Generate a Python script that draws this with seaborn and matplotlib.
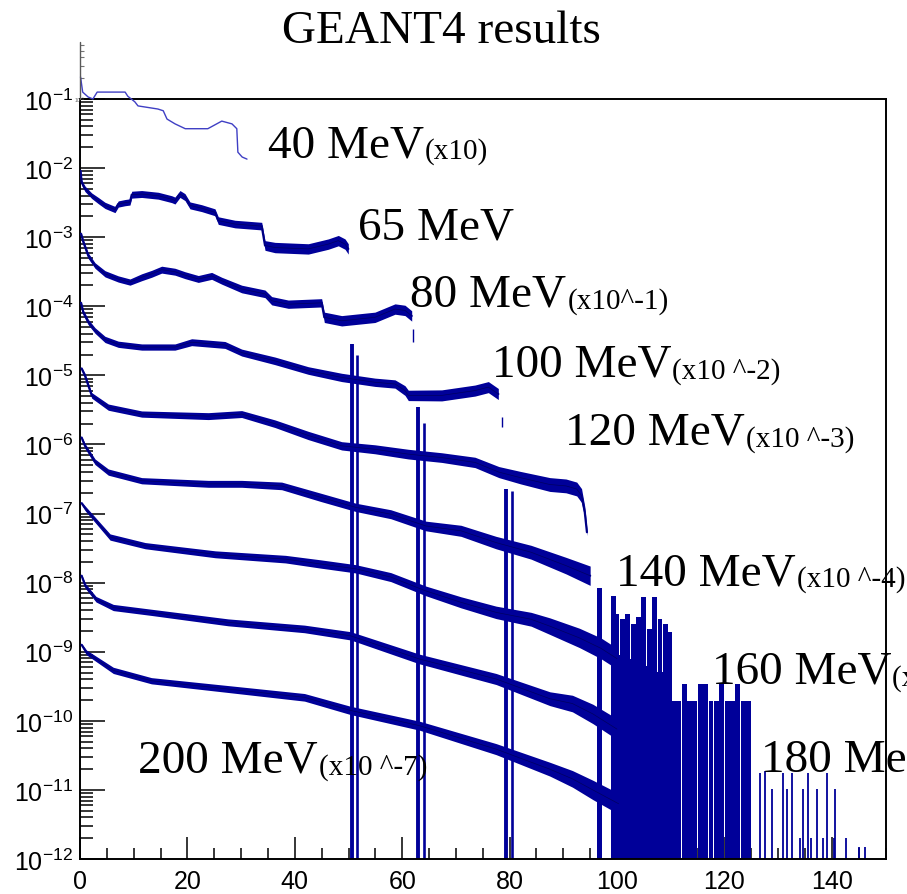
import numpy as np
import pandas as pd
import matplotlib
matplotlib.use("Agg")
import matplotlib.pyplot as plt
from matplotlib.ticker import MultipleLocator, LogLocator, NullFormatter, FuncFormatter
import seaborn as sns

# ---------------------------------------------------------------------------
# GEANT4 spectra: x = energy (MeV), values stored as log10 of the scaled yield
# sp_* = half width of the statistical band (decades) at each node
# ---------------------------------------------------------------------------
x_40 = [0.1, 0.5, 1.5, 2.4, 3.2, 5.2, 8.4, 8.9, 10.2, 10.8, 14.5, 15.5, 16.2, 17.7,
        19.6, 23.8, 26.4, 28.3, 29.2, 29.4, 30.2, 31.1]
lg_40 = [-0.68, -0.90, -0.97, -1.00, -0.90, -0.90, -0.90, -0.96, -1.04, -1.10, -1.145,
         -1.17, -1.29, -1.36, -1.43, -1.43, -1.32, -1.36, -1.43, -1.77, -1.84, -1.87]

x_65 = [0.1, 0.32, 0.93, 2.18, 3.41, 4.66, 5.90, 6.52, 7.13, 8.38, 9.31, 9.63, 11.49,
        14.58, 17.08, 17.69, 18.62, 19.55, 20.48, 22.66, 25.14, 25.75, 28.86, 33.84,
        34.45, 36.31, 42.51, 46.24, 48.10, 49.35, 49.96]
lg_65 = [-2.04, -2.21, -2.30, -2.40, -2.47, -2.54, -2.58, -2.60, -2.52, -2.50, -2.49,
         -2.385, -2.375, -2.40, -2.45, -2.47, -2.375, -2.42, -2.54, -2.58, -2.64, -2.76,
         -2.81, -2.84, -3.12, -3.15, -3.17, -3.10, -3.05, -3.10, -3.17]
sp_65 = [0.02, 0.035, 0.04, 0.04, 0.045, 0.045, 0.045, 0.045, 0.045, 0.045, 0.045, 0.05,
         0.05, 0.05, 0.05, 0.05, 0.05, 0.05, 0.05, 0.05, 0.05, 0.055, 0.055, 0.055, 0.07,
         0.075, 0.075, 0.075, 0.075, 0.075, 0.075]

x_80 = [0.2, 0.62, 1.55, 2.79, 4.66, 7.13, 9.31, 11.49, 13.35, 15.21, 17.69, 19.55,
        22.03, 24.52, 26.39, 30.11, 34.45, 35.70, 38.79, 45.0, 45.5, 48.73, 54.93,
        58.66, 60.52, 61.77]
lg_80 = [-2.95, -3.07, -3.27, -3.41, -3.53, -3.605, -3.65, -3.58, -3.53, -3.47, -3.50,
         -3.55, -3.605, -3.56, -3.63, -3.75, -3.82, -3.92, -3.97, -3.95, -4.16, -4.21,
         -4.16, -4.04, -4.06, -4.14]
sp_80 = [0.02, 0.035, 0.04, 0.04, 0.045, 0.045, 0.045, 0.05, 0.05, 0.05, 0.05, 0.05,
         0.05, 0.05, 0.05, 0.055, 0.055, 0.06, 0.06, 0.06, 0.075, 0.075, 0.075, 0.075,
         0.075, 0.075]

x_100 = [0.2, 0.62, 1.55, 2.79, 4.66, 7.13, 11.49, 17.69, 20.79, 27.0, 30.11, 36.31,
         42.51, 48.73, 54.93, 58.66, 60.52, 61.14, 67.36, 73.56, 76.04, 77.9]
lg_100 = [-3.95, -4.09, -4.23, -4.35, -4.48, -4.55, -4.59, -4.59, -4.52, -4.56, -4.67,
          -4.79, -4.93, -5.03, -5.10, -5.125, -5.22, -5.29, -5.29, -5.22, -5.17, -5.27]
sp_100 = [0.02, 0.035, 0.04, 0.04, 0.045, 0.045, 0.045, 0.045, 0.05, 0.05, 0.05, 0.055,
          0.055, 0.06, 0.06, 0.06, 0.07, 0.075, 0.08, 0.08, 0.08, 0.08]

x_120 = [0.3, 0.93, 2.18, 5.27, 11.49, 23.9, 30.11, 36.31, 42.51, 48.73, 54.93, 61.14,
         67.36, 73.56, 78.0, 82.0, 87.5, 90.5, 92.5, 93.4, 94.0, 94.4]
lg_120 = [-4.90, -5.005, -5.29, -5.46, -5.56, -5.59, -5.56, -5.70, -5.87, -6.02, -6.07,
          -6.14, -6.19, -6.26, -6.40, -6.48, -6.58, -6.60, -6.645, -6.74, -6.98, -7.27]
sp_120 = [0.02, 0.035, 0.04, 0.045, 0.045, 0.05, 0.05, 0.055, 0.06, 0.06, 0.065, 0.07,
          0.07, 0.075, 0.08, 0.09, 0.1, 0.1, 0.1, 0.1, 0.08, 0.05]

x_140 = [0.3, 0.93, 2.79, 5.27, 11.49, 23.9, 30.11, 37.56, 44.81, 51.34, 57.88, 64.41,
         70.95, 77.47, 84.0, 90.54, 95.0]
lg_140 = [-5.90, -6.02, -6.25, -6.40, -6.525, -6.57, -6.57, -6.60, -6.765, -6.91, -7.01,
          -7.18, -7.25, -7.42, -7.56, -7.755, -7.90]
sp_140 = [0.02, 0.035, 0.04, 0.045, 0.045, 0.05, 0.05, 0.055, 0.06, 0.06, 0.065, 0.07,
          0.08, 0.09, 0.1, 0.12, 0.14]

x_160 = [0.3, 1.02, 5.6, 12.14, 25.2, 38.27, 44.81, 51.34, 57.88, 64.41, 70.95, 77.47,
         84.0, 87.5, 93.0, 97.0, 100.0]
lg_160 = [-6.85, -6.93, -7.34, -7.465, -7.59, -7.66, -7.73, -7.80, -7.92, -8.12, -8.285,
          -8.43, -8.53, -8.63, -8.80, -8.95, -9.10]
sp_160 = [0.02, 0.035, 0.045, 0.045, 0.05, 0.055, 0.06, 0.06, 0.065, 0.07, 0.08, 0.09,
          0.1, 0.12, 0.14, 0.15, 0.15]

x_180 = [0.3, 1.02, 2.98, 6.2, 13.3, 27.6, 41.8, 50.4, 63.2, 77.5, 87.5, 91.7, 95.5, 100.0]
lg_180 = [-7.90, -8.05, -8.24, -8.36, -8.43, -8.575, -8.67, -8.77, -9.105, -9.395, -9.68,
          -9.75, -9.90, -10.12]
sp_180 = [0.02, 0.035, 0.04, 0.045, 0.045, 0.05, 0.055, 0.06, 0.07, 0.08, 0.1, 0.12,
          0.14, 0.15]

x_200 = [0.3, 1.2, 6.2, 13.3, 27.6, 41.8, 50.4, 63.2, 77.5, 87.5, 91.7, 95.5, 100.3]
lg_200 = [-8.90, -9.01, -9.27, -9.42, -9.54, -9.66, -9.85, -10.07, -10.41, -10.70, -10.84,
          -11.0, -11.2]
sp_200 = [0.02, 0.035, 0.045, 0.045, 0.05, 0.055, 0.06, 0.065, 0.08, 0.1, 0.12, 0.14, 0.15]

# high-energy tails: bins whose lower error reaches the bottom of the plot
tail140_x = [96.7, 99.3, 100.0, 101.0, 102.0, 103.0, 104.0, 105.0, 106.0, 107.0, 108.0,
             109.0, 109.8]
tail140_top = [-8.08, -8.20, -8.45, -8.53, -8.45, -8.60, -8.50, -8.21, -8.67, -8.21,
               -8.53, -8.60, -8.71]
tail160_x = [99.5, 100.5, 101.5, 102.5, 103.5, 104.5, 105.5, 106.5, 107.5, 108.5, 109.5,
             110.5, 111.5, 112.5, 113.5, 114.5, 115.5, 116.5, 117.5, 118.5, 119.5, 120.5,
             121.5, 122.5, 123.5, 124.5]
tail160_top = [-9.0, -9.05, -9.1, -9.1, -9.15, -9.2, -9.2, -9.25, -9.3, -9.3, -9.71,
               -9.71, -9.71, -9.47, -9.71, -9.71, -9.47, -9.47, -9.71, -9.71, -9.47,
               -9.71, -9.71, -9.47, -9.71, -9.71]
tail180_x = [126.6, 127.6, 128.9, 130.9, 131.7, 132.6, 134.6, 135.6, 137.2, 139.1, 140.6]
tail180_top = [-10.75, -10.73, -10.99, -10.75, -10.99, -10.75, -10.99, -10.75, -10.99,
               -10.75, -10.99]
tail200_x = [134.0, 136.1, 138.4, 140.4, 142.6, 145.1, 146.2]
tail200_top = [-11.70, -11.70, -11.70, -11.70, -11.70, -11.83, -11.83]

# single bins with very large errors
spike_x = [50.6, 51.6, 63.0, 64.1, 79.4, 80.4]
spike_top = [-4.55, -4.70, -5.46, -5.69, -6.645, -6.67]
dangle_x = [62.0, 78.6]
dangle_lo = [-4.52, -5.75]
dangle_hi = [-4.33, -5.60]

energies = ["40 MeV", "65 MeV", "80 MeV", "100 MeV", "120 MeV", "140 MeV", "160 MeV",
            "180 MeV", "200 MeV"]
scale_notes = ["(x10)", "", "(x10^-1)", "(x10 ^-2)", "(x10 ^-3)", "(x10 ^-4)",
               "(x10 ^-5)", "(x10 ^-6)", "(x10 ^-7)"]

# ---------------------------------------------------------------------------
sns.set_theme(style="white")
plt.rcParams.update({
    "font.family": ["Liberation Sans", "DejaVu Sans"],
    "mathtext.fontset": "custom",
    "mathtext.rm": "Liberation Sans",
    "mathtext.it": "Liberation Sans:italic",
    "mathtext.bf": "Liberation Sans:bold",
    "text.color": "black",
    "axes.labelcolor": "black",
    "xtick.color": "black",
    "ytick.color": "black",
    "axes.edgecolor": "black",
    "axes.linewidth": 1.4,
})

BLUE = "#000099"
LIGHT = "#3f3fc4"
FLOOR = 1e-12
W, H = 907, 895

fig = plt.figure(figsize=(W / 100, H / 100), dpi=100)
ax = fig.add_axes([80 / W, 35 / H, 805.5 / W, 760 / H])
ax.set_yscale("log")
ax.set_xlim(0, 150)
ax.set_ylim(FLOOR, 1e-1)

main = [
    ("65 MeV", x_65, lg_65, sp_65),
    ("80 MeV", x_80, lg_80, sp_80),
    ("100 MeV", x_100, lg_100, sp_100),
    ("120 MeV", x_120, lg_120, sp_120),
    ("140 MeV", x_140, lg_140, sp_140),
    ("160 MeV", x_160, lg_160, sp_160),
    ("180 MeV", x_180, lg_180, sp_180),
    ("200 MeV", x_200, lg_200, sp_200),
]

frames = []
for name, xs, lg, sp in main:
    y = 10.0 ** np.asarray(lg)
    s = 10.0 ** np.asarray(sp)
    ax.fill_between(xs, y / s, y * s, color=BLUE, lw=0, zorder=2)
    frames.append(pd.DataFrame({"energy": name, "E": xs, "yield": y}))
df = pd.concat(frames, ignore_index=True)

sns.lineplot(data=df, x="E", y="yield", hue="energy", estimator=None, sort=False,
             palette={n: BLUE for n, *_ in main}, legend=False, lw=1.6, ax=ax, zorder=3)
# thin dark trace of the bin markers along each curve
sns.lineplot(data=df, x="E", y="yield", hue="energy", estimator=None, sort=False,
             palette={n: "#00003a" for n, *_ in main}, legend=False, lw=0.5,
             alpha=0.6, ax=ax, zorder=3)

# 40 MeV spectrum sits partly above the frame
sns.lineplot(x=x_40, y=10.0 ** np.asarray(lg_40), color=LIGHT, lw=1.0, ax=ax,
             clip_on=False, zorder=4)

# tails: dense bins drawn as filled columns down to the bottom of the frame
for tx, tt in ((tail140_x, tail140_top), (tail160_x, tail160_top)):
    tops = 10.0 ** np.asarray(tt)
    ax.bar(tx, tops - FLOOR, bottom=FLOOR, width=0.9, color=BLUE, lw=0, zorder=2)
ax.vlines(tail180_x, FLOOR, 10.0 ** np.asarray(tail180_top), color=BLUE, lw=1.3, zorder=2)
ax.vlines(tail200_x, FLOOR, 10.0 ** np.asarray(tail200_top), color=BLUE, lw=1.3, zorder=2)
ax.vlines(spike_x, FLOOR, 10.0 ** np.asarray(spike_top), color=BLUE,
          lw=[2.8, 1.9, 2.8, 1.9, 2.8, 1.9], zorder=2)
ax.vlines(dangle_x, 10.0 ** np.asarray(dangle_lo), 10.0 ** np.asarray(dangle_hi),
          color=BLUE, lw=1.0, zorder=2)

# axis of the inset 40 MeV frame above the main frame
ax.plot([0, 0], [1e-1, 10 ** -0.175], color="0.35", lw=1.0, clip_on=False, zorder=5)
ax.plot([0.3] * 5, [0.2, 0.3, 0.4, 0.5, 0.6], ls="none", marker="_", ms=3,
        color="0.45", mew=0.8, clip_on=False)
fig.text(74.5 / W, 1 - 100 / H, r"$10^{-1}$", fontsize=3.5, color="0.4", ha="left",
         va="center")

# ticks (ROOT style: inside, bottom/left only)
ax.xaxis.set_major_locator(MultipleLocator(20))
ax.xaxis.set_minor_locator(MultipleLocator(5))
ax.yaxis.set_major_locator(LogLocator(base=10, numticks=20))
ax.yaxis.set_minor_locator(LogLocator(base=10, subs=np.arange(2, 10), numticks=20))
ax.yaxis.set_minor_formatter(NullFormatter())
ax.yaxis.set_major_formatter(FuncFormatter(lambda v, p: r"$10^{%d}$" % round(np.log10(v))))
ax.tick_params(which="both", bottom=True, left=True, top=False, right=False)
ax.tick_params(axis="x", which="major", direction="in", length=15.8, width=1.1,
               labelsize=18, pad=7, colors="black")
ax.tick_params(axis="x", which="minor", direction="in", length=7.9, width=1.1,
               colors="black")
ax.tick_params(axis="y", which="major", direction="in", length=18, width=1.1,
               labelsize=18, pad=5, colors="black")
ax.tick_params(axis="y", which="minor", direction="in", length=9.4, width=1.1,
               colors="black")
ax.set_xlabel("")
ax.set_ylabel("")
for sp_ in ax.spines.values():
    sp_.set_color("black")
    sp_.set_linewidth(1.4)

# title
fig.text(441 / W, 1 - 43 / H, "GEANT4 results", ha="center", va="baseline",
         fontsize=34, family="Liberation Serif", color="black")

# curve labels (left edge in MeV, baseline as log10 of yield)
label_pos = [(35.0, -1.825), (51.8, -3.026), (61.5, -3.996), (76.7, -5.005),
             (90.3, -5.993), (99.9, -8.02), (117.6, -9.443), (126.9, -10.72),
             (10.8, -10.74)]
texts = []
for name, (lx, ly) in zip(energies, label_pos):
    t = ax.text(lx, 10 ** ly, name, fontsize=34, family="Liberation Serif",
                color="black", ha="left", va="baseline", clip_on=False, zorder=6)
    texts.append((t, lx, ly))

fig.canvas.draw()
renderer = fig.canvas.get_renderer()
for (t, lx, ly), note in zip(texts, scale_notes):
    if not note:
        continue
    bb = t.get_window_extent(renderer)
    base = ax.transData.transform((lx, 10 ** ly))[1]
    fig.text((bb.x1 + 1) / W, (base - 2) / H, note, fontsize=21, color="black",
             family="Liberation Serif", ha="left", va="baseline", zorder=6)

fig.savefig("out.png", dpi=100)
